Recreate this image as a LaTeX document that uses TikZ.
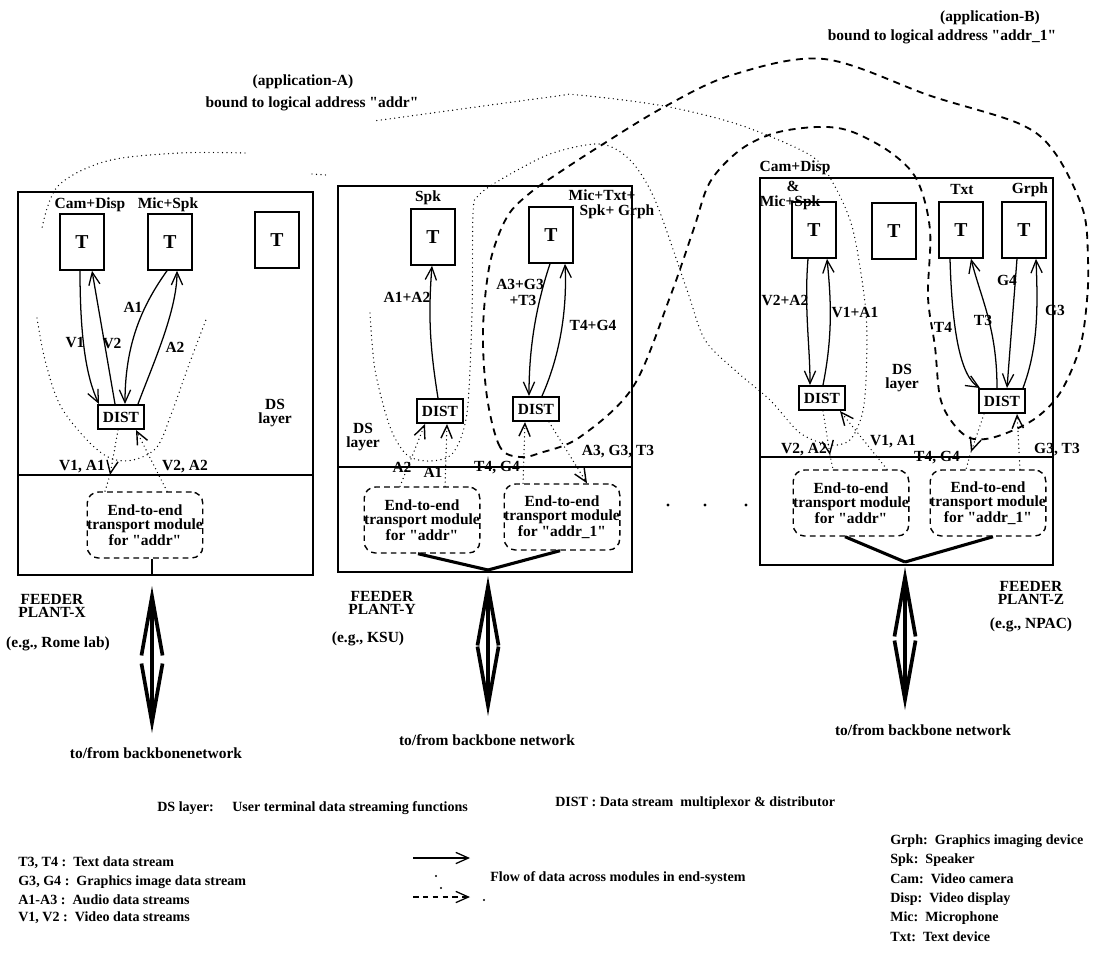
\documentclass[tikz,border=0pt]{standalone}
\usepackage{fontspec}
\setmainfont{Liberation Serif}[Ligatures=TeXOff]
\usetikzlibrary{arrows.meta,calc}
\begin{document}
\begin{tikzpicture}[x=0.025cm,y=-0.025cm,
  lbl/.style={font=\bfseries\fontsize{11}{9.5}\selectfont,inner sep=0pt,align=center},
  leg/.style={font=\bfseries\fontsize{10}{10}\selectfont,inner sep=0pt,anchor=west},
  tbox/.style={draw,line width=1.1pt,minimum width=1.1cm,minimum height=1.4cm,inner sep=0pt,font=\bfseries\fontsize{14}{14}\selectfont},
  distbox/.style={draw,line width=1.4pt,minimum width=1.15cm,minimum height=0.6cm,inner sep=0pt,font=\bfseries\fontsize{11}{11}\selectfont},
  module/.style={draw,line width=1pt,dash pattern=on 4pt off 3pt,rounded corners=8pt,minimum width=2.68cm,minimum height=1.65cm,inner sep=0pt,align=center,font=\bfseries\fontsize{11}{10}\selectfont},
  plant/.style={line width=1.3pt},
  flow/.style={line width=0.9pt,-{Straight Barb[length=9pt,width=8pt]}},
  dotl/.style={line width=1pt,line cap=round,dash pattern=on 0pt off 3pt},
  dflow/.style={dotl,-{Straight Barb[length=9pt,width=8pt]}},
  appA/.style={line width=1pt,line cap=round,dash pattern=on 0pt off 3.2pt},
  appB/.style={line width=1.3pt,dash pattern=on 5pt off 4pt},
  feed/.style={line width=2.2pt},
  big/.style={line width=2.6pt,{Straight Barb[length=42pt,width=15pt]}-{Straight Barb[length=42pt,width=15pt]}},
]
\fill[white] (0,0) rectangle (1097,960);
\useasboundingbox (0,0) rectangle (1097,960);

% ---------- application labels ----------
\node[lbl] (appAt) at (303,82) {(application-A)};
\node[lbl] (appAb) at (312,104) {bound to logical address "addr"};
\node[lbl] (appBt) at (990,18) {(application-B)};
\node[lbl] (appBb) at (942,37) {bound to logical address "addr\_1"};

% ---------- application boundaries ----------
\draw[appB] plot[smooth cycle,tension=0.55] coordinates {
 (520,457) (500,447) (487,397) (483,330) (490,263) (507,217) (530,193) (560,172)
 (600,146) (664,107) (732,75) (824,59) (931,96) (1020,124) (1055,153) (1083,210)
 (1088,260) (1087,300) (1080,347) (1060,393) (1033,420) (995,437) (970,438)
 (952,422) (940,397) (935,347) (928,297) (930,230) (917,180) (890,152) (850,131)
 (817,127) (775,133) (740,150) (710,182) (694,228) (670,297) (633,387) (580,437)
 (540,453)};
\draw[appA] plot[smooth,tension=0.55] coordinates {
 (245,153) (180,153) (107,161) (58,186) (42,228)};
\draw[appA] plot[smooth,tension=0.55] coordinates {
 (37,318) (45,360) (60,405) (87,440) (110,458) (133,460) (157,447) (172,412) (187,370) (207,317)};
\draw[appA] (312,174) -- (326,175);
\draw[appA] plot[smooth,tension=0.5] coordinates {
 (370,313) (375,370) (390,427) (407,455) (430,461) (453,453) (467,413) (472,313)
 (473,213) (478,196) (500,180) (550,154) (600,144) (630,160) (655,200) (687,290)
 (705,340) (737,372) (770,400) (800,433) (830,445) (850,440) (862,415) (866,380)
 (866,313) (853,230) (833,183) (810,155) (740,125) (664,106) (578,95) (550,97) (374,121)};

% ---------- plant X ----------
\draw[plant] (18,192) rectangle (313,575);
\draw[plant] (18,475) -- (313,475);
\node[tbox] (tXa) at (82,242) {T};
\node[tbox] (tXb) at (170,242) {T};
\node[tbox] (tXc) at (277,240) {T};
\node[distbox] (dX) at (121,417) {DIST};
\node[module,minimum width=2.85cm] (mX) at (145,525) {End-to-end\\transport module\\for "addr"};
\node[lbl] at (90,205) {Cam+Disp};
\node[lbl] at (168,205) {Mic+Spk};
\draw[flow] ($(tXa.south)+(-2,0)$) .. controls +(0,70) and +(-12,-25) .. ($(dX.north west)+(2,0)$);
\draw[flow] ($(dX.north)+(-6,0)$) -- ($(tXa.south)+(10,0)$);
\draw[flow] ($(tXb.south)+(-3,0)$) .. controls +(-25,35) and +(0,-60) .. ($(dX.north)+(4,0)$);
\draw[flow] ($(dX.north east)+(-7,0)$) .. controls +(15,-40) and +(0,40) .. ($(tXb.south)+(7,0)$);
\node[lbl] at (75,343) {V1};
\node[lbl] at (112,343) {V2};
\node[lbl] at (133,307) {A1};
\node[lbl] at (175,347) {A2};
\node[lbl] at (275,413) {DS\\layer};
\coordinate (xa1) at (110,475);
\draw[dflow] ($(dX.south)+(-3,0)$) -- (xa1);
\draw[dotl] (xa1) -- ($(mX.north)+(-40,0)$);
\draw[dflow] ($(mX.north)+(22,0)$) -- ($(dX.south east)+(-9,0)$);
\node[lbl] at (82,467) {V1, A1};
\node[lbl] at (185,467) {V2, A2};
\coordinate (bX) at (152,575);
\draw[line width=1.3pt] ($(mX.south)+(7,0)$) -- (bX);
\coordinate (nXt) at (152,586);
\coordinate (nXb) at (152,733);
\draw[big] (nXt) -- (nXb);
\node[lbl] at (52,606) {FEEDER\\PLANT-X};
\node[lbl] at (58,644) {(e.g., Rome lab)};
\node[lbl] at (156,753) {to/from backbonenetwork};

% ---------- plant Y ----------
\draw[plant] (338,186) rectangle (632,572);
\draw[plant] (338,467) -- (632,467);
\node[tbox] (tYa) at (433,237) {T};
\node[tbox] (tYb) at (551,235) {T};
\node[distbox] (dYa) at (440,411) {DIST};
\node[distbox] (dYb) at (536,409) {DIST};
\node[module] (mYa) at (422,520) {End-to-end\\transport module\\for "addr"};
\node[module] (mYb) at (562,517) {End-to-end\\transport module\\for "addr\_1"};
\node[lbl] at (428,198) {Spk};
\node[lbl] at (602,195) {Mic+Txt+};
\node[lbl] at (617,212) {Spk+ Grph};
\draw[flow] ($(dYa.north)+(-2,0)$) .. controls +(-8,-50) and +(-4,50) .. ($(tYa.south)+(-1,0)$);
\draw[flow] ($(tYb.south)+(-1,0)$) .. controls +(-15,45) and +(0,-45) .. ($(dYb.north)+(-7,0)$);
\draw[flow] ($(dYb.north)+(6,0)$) .. controls +(20,-45) and +(2,40) .. ($(tYb.south)+(14,0)$);
\node[lbl] at (407,297) {A1+A2};
\node[lbl] at (520,284) {A3+G3};
\node[lbl] at (523,300) {+T3};
\node[lbl] at (593,325) {T4+G4};
\node[lbl] at (363,437) {DS\\layer};
\draw[dflow] ($(mYa.north)+(-22,0)$) -- ($(dYa.south west)+(9,0)$);
\draw[dflow] ($(mYa.north)+(23,0)$) -- ($(dYa.south)+(7,0)$);
\draw[dflow] ($(mYb.north)+(-39,0)$) -- ($(dYb.south)+(-11,0)$);
\draw[dflow] ($(dYb.south east)+(-11,0)$) -- ($(mYb.north)+(25,0)$);
\node[lbl] at (402,467) {A2};
\node[lbl] at (433,472) {A1};
\node[lbl] at (497,468) {T4, G4};
\node[lbl] at (618,452) {A3, G3, T3};
\coordinate (bY) at (488,570);
\draw[feed] ($(mYa.south)+(-4,0)$) -- (bY);
\draw[feed] ($(mYb.south)+(-2,0)$) -- (bY);
\coordinate (nYt) at (488,576);
\coordinate (nYb) at (488,716);
\draw[big] (nYt) -- (nYb);
\node[lbl] at (382,603) {FEEDER\\PLANT-Y};
\node[lbl] at (368,639) {(e.g., KSU)};
\node[lbl] at (487,740) {to/from backbone network};

% dots between plants
\fill (668,505) circle (1.6);
\fill (705,505) circle (1.6);
\fill (746,505) circle (1.6);

% ---------- plant Z ----------
\draw[plant] (760,178) rectangle (1053,565);
\draw[plant] (760,457) -- (1053,457);
\node[tbox] (tZa) at (814,230) {T};
\node[tbox] (tZb) at (894,231) {T};
\node[tbox] (tZc) at (961,230) {T};
\node[tbox] (tZd) at (1024,230) {T};
\node[distbox] (dZa) at (822,398) {DIST};
\node[distbox] (dZb) at (1002,401) {DIST};
\node[module] (mZa) at (851,503) {End-to-end\\transport module\\for "addr"};
\node[module] (mZb) at (988,503) {End-to-end\\transport module\\for "addr\_1"};
\node[lbl] at (795,168) {Cam+Disp};
\node[lbl] at (793,186) {\&};
\node[lbl] at (790,203) {Mic+Spk};
\node[lbl] at (962,190) {Txt};
\node[lbl] at (1030,190) {Grph};
\draw[flow] ($(tZa.south)+(-6,0)$) .. controls +(-4,50) and +(0,-40) .. ($(dZa.north)+(-12,0)$);
\draw[flow] ($(dZa.north)+(1,0)$) .. controls +(10,-50) and +(4,40) .. ($(tZa.south)+(13,0)$);
\draw[flow] ($(tZc.south)+(-11,0)$) .. controls +(2,70) and +(-20,-12) .. ($(dZb.north west)+(2,0)$);
\draw[flow] ($(dZb.north)+(-5,0)$) .. controls +(0,-60) and +(10,40) .. ($(tZc.south)+(10,0)$);
\draw[flow] ($(tZd.south)+(-7,0)$) -- ($(dZb.north)+(5,0)$);
\draw[flow] ($(dZb.north east)+(-3,0)$) .. controls +(15,-40) and +(2,50) .. ($(tZd.south)+(12,0)$);
\node[lbl] at (785,300) {V2+A2};
\node[lbl] at (855,313) {V1+A1};
\node[lbl] at (943,327) {T4};
\node[lbl] at (983,320) {T3};
\node[lbl] at (1007,280) {G4};
\node[lbl] at (1055,310) {G3};
\node[lbl] at (902,378) {DS\\layer};
\coordinate (za) at (830,455);
\draw[dflow] ($(dZa.south)+(1,0)$) -- (za);
\draw[dotl] (za) -- ($(mZa.north)+(-18,0)$);
\draw[dflow] ($(mZa.north)+(36,0)$) -- ($(dZa.south east)+(-6,0)$);
\coordinate (zb) at (971,452);
\draw[dflow] ($(dZb.south west)+(6,0)$) -- (zb);
\draw[dotl] (zb) -- ($(mZb.north)+(-22,0)$);
\draw[dflow] ($(mZb.north)+(32,0)$) -- ($(dZb.south)+(15,0)$);
\node[lbl] at (804,450) {V2, A2};
\node[lbl] at (893,442) {V1, A1};
\node[lbl] at (937,458) {T4, G4};
\node[lbl] at (1057,450) {G3, T3};
\coordinate (bZ) at (905,562);
\draw[feed] ($(mZa.south)+(-6,0)$) -- (bZ);
\draw[feed] ($(mZb.south)+(5,0)$) -- (bZ);
\coordinate (nZt) at (905,567);
\coordinate (nZb) at (905,710);
\draw[big] (nZt) -- (nZb);
\node[lbl] at (1031,593) {FEEDER\\PLANT-Z};
\node[lbl] at (1031,625) {(e.g., NPAC)};
\node[lbl] at (923,730) {to/from backbone network};

% ---------- legend ----------
\node[leg] at (157,808) {DS layer:};
\node[leg] at (232,808) {User terminal data streaming functions};
\node[leg] at (555,803) {DIST : Data stream\ \ multiplexor \& distributor};
\node[leg] at (890,841) {Grph:\ \ Graphics imaging device};
\node[leg] at (890,860) {Spk:\ \ Speaker};
\node[leg] at (890,879) {Cam:\ \ Video camera};
\node[leg] at (890,899) {Disp:\ \ Video display};
\node[leg] at (890,918) {Mic:\ \ Microphone};
\node[leg] at (890,937) {Txt:\ \ Text device};
\node[leg] at (18,863) {T3, T4 :\ \ Text data stream};
\node[leg] at (18,882) {G3, G4 :\ \ Graphics image data stream};
\node[leg] at (18,900) {A1-A3 :\ \ Audio data streams};
\node[leg] at (18,918) {V1, V2 :\ \ Video data streams};
\coordinate (la1) at (413,858);
\coordinate (la2) at (470,858);
\draw[flow] (la1) -- (la2);
\coordinate (lb1) at (413,897);
\coordinate (lb2) at (470,897);
\draw[flow,dash pattern=on 4pt off 3pt] (lb1) -- (lb2);
\fill (436,876) circle (1.2);
\fill (441,888) circle (1.2);
\fill (484,900) circle (1.2);
\node[leg] at (490,878) {Flow of data across modules in end-system};
\end{tikzpicture}
\end{document}
